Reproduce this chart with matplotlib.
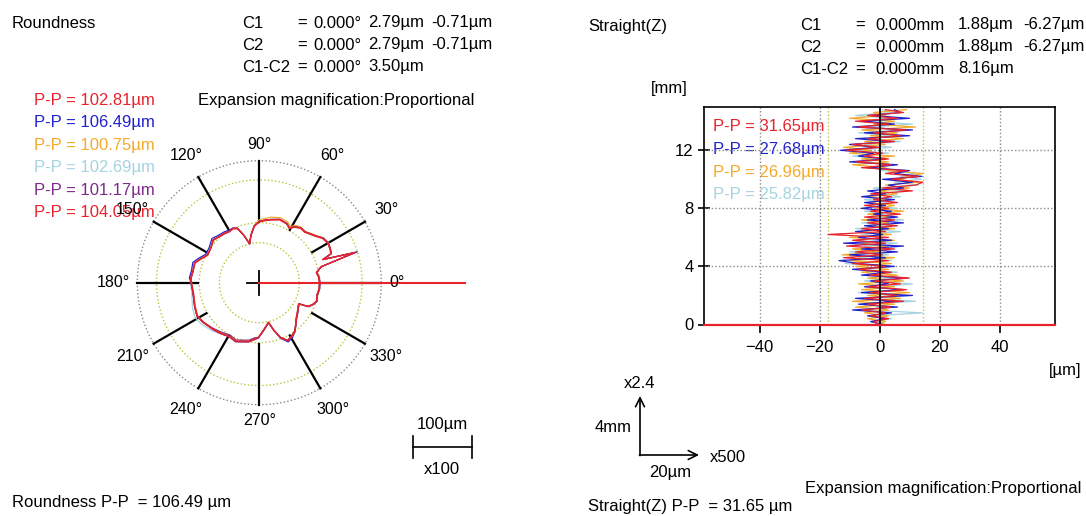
import numpy as np
import matplotlib
matplotlib.use("Agg")
import matplotlib.pyplot as plt

# ---------------------------------------
# data
# ---------------------------------------

# roundness profiles, deviation from the min circle [um] at each angle [deg]
ANGLES = [0, 5, 10, 12, 14.5, 17.5, 20, 22, 26, 30,
          35, 40, 44, 48, 53, 58, 61, 65, 72, 80,
          86, 90, 95, 100, 104, 108, 112, 116, 120, 125,
          130, 137, 145, 152, 158, 163, 170, 176, 180, 188,
          195, 200, 208, 215, 225, 232, 241, 248, 255, 260,
          265, 269, 275, 283, 287, 291, 296, 301, 306, 311,
          316, 322, 329, 332, 334, 338, 342, 348, 354, 360]

round_red1 = [34, 33, 30, 34, 40, 102.8, 46, 63, 65, 66,
              63, 55, 51, 47, 48, 43, 37, 42, 44, 40,
              37, 35, 28, 13, 0, 16, 31, 34, 32, 34,
              35, 38, 33, 31, 39, 46, 46, 48, 47, 45,
              46, 48, 51, 48, 43, 40, 36, 39, 35, 33,
              28, 25, 13, 1, 16, 31, 41, 38, 34, 26,
              19, 14, 9, 8, 24, 30, 34, 32, 34, 34]
round_blue = [35, 34, 31, 35, 41, 106.5, 47, 64, 66, 67,
              64, 56, 52, 48, 49, 44, 38, 43, 45, 41,
              38, 36, 29, 14, 0, 17, 32, 35, 35, 37,
              38, 42, 36, 35, 43, 50, 49, 51, 48, 46,
              47, 49, 52, 49, 44, 41, 37, 40, 36, 34,
              29, 26, 14, 2, 17, 33, 44, 41, 35, 27,
              20, 15, 10, 9, 25, 31, 35, 33, 35, 35]
round_orange = [35, 34, 32, 35, 41, 100.8, 47, 63, 66, 67,
                65, 57, 53, 49, 50, 47, 41, 46, 48, 45,
                41, 39, 30, 15, 0, 17, 32, 35, 33, 34,
                35, 38, 33, 32, 39, 46, 46, 48, 47, 45,
                46, 48, 51, 48, 43, 41, 37, 39, 35, 33,
                28, 25, 13, 1, 16, 31, 41, 38, 34, 26,
                19, 14, 9, 8, 24, 30, 34, 32, 34, 35]
round_lightblue = [36, 35, 32, 35, 42, 102.7, 48, 64, 66, 68,
                   65, 57, 52, 49, 49, 44, 38, 43, 45, 41,
                   38, 36, 29, 14, 0, 17, 32, 35, 34, 35,
                   36, 39, 34, 33, 40, 47, 47, 49, 49, 48,
                   50, 53, 56, 53, 47, 41, 37, 40, 36, 34,
                   29, 26, 14, 2, 17, 32, 42, 39, 35, 27,
                   20, 15, 10, 9, 25, 31, 35, 33, 35, 36]
round_purple = [34, 34, 31, 34, 41, 101.2, 47, 64, 65, 67,
                64, 56, 51, 48, 48, 44, 38, 42, 45, 41,
                38, 36, 29, 14, 0, 16, 31, 34, 33, 34,
                35, 39, 33, 32, 40, 47, 46, 48, 48, 46,
                47, 49, 52, 49, 42, 38, 34, 37, 33, 31,
                26, 25, 13, 1, 16, 31, 41, 38, 34, 26,
                19, 14, 9, 8, 24, 30, 34, 32, 34, 34]
round_red2 = [35, 34, 31, 35, 41, 104.1, 47, 64, 66, 67,
              64, 56, 52, 48, 49, 44, 38, 43, 45, 41,
              38, 36, 29, 14, 0, 17, 32, 35, 33, 35,
              36, 39, 33, 32, 40, 47, 47, 49, 48, 46,
              47, 49, 52, 49, 44, 41, 37, 40, 36, 34,
              29, 26, 14, 2, 17, 32, 42, 39, 35, 27,
              20, 15, 10, 9, 25, 31, 35, 33, 35, 35]

round_pp = ["102.81", "106.49", "100.75", "102.69", "101.17", "104.05"]

# straightness profiles, deviation [um] every 0.2 mm along Z
Z_MM = np.round(np.arange(75) * 0.2, 1)
straight_red = [0, -2, 3, -3, 2, -6, 4, -4, 8, -5,
                6, -3, 9, -4, 7, -2, 10, -3, 4, -7,
                2, -9, 3, -12, 1, -8, 5, -11, 2, -9,
                3, -17.2, 2, -6, 6, -4, 5, -5, 7, -3,
                3, -5, 6, -2, 4, -3, 11, 1, 12, 14.45,
                4, 13, 2, 9, -6, 4, -8, 3, -5, 1,
                -11, 0, -9, 5, -4, 7, -2, 9, -7, 3,
                -8, 6, -4, 8, 2]
straight_blue = [1, -3, 2, -4, 4, -9, 6, -7, 5, -8,
                 11, -6, 8, -5, 3, -3, 9, -6, 2, -9,
                 5, -7, -13.5, 2, -10, 6, -6, 8, -12, 4,
                 -7, 1, -8, 3, -5, 8, -4, 6, -2, 4,
                 -6, 2, -5, 5, -6, 2, -4, 8, 3, 11,
                 1, 14.18, 5, 10, -4, 6, -10, 2, -7, -2,
                 -13, -1, -10, 4, -8, 10, -5, 11, -9, 5,
                 -6, 10, -3, 7, 5]
straight_orange = [-1, 2, -4, 3, -5, 3, -8, 5, -9, 7,
                   -4, 10, -6, 5, -7, 8, -4, 6, -6, 3,
                   -8, 4, -10, 5, -12.5, 0, -9, 3, -6, 5,
                   -10, 4, -7, 5, -3, 3, -6, 4, -4, 8,
                   -1, 5, -3, 2, -4, 6, 0, 10, 2, 13,
                   6, 9, 14.46, 3, 2, -9, 3, -6, 5, -10,
                   -3, -12, 2, -5, 8, -3, 6, -6, 12, -2,
                   5, -10, 2, -2, 9]
straight_lightblue = [2, -1, 4, -2, 14.32, -4, 2, -6, 12, -3,
                      4, -7, 6, 1, 11, -5, 4, -4, 6, -5,
                      1, -11.5, 4, -7, 3, -10, 2, -5, 6, -8,
                      1, -6, 7, -8, 4, -6, 8, -2, 5, -5,
                      6, -3, 3, -5, 7, 1, 9, -2, 13, 5,
                      14, 7, 12, 1, -2, 5, -5, 1, -9, 3,
                      -8, 4, -5, 7, -2, 4, -7, 8, -3, 11,
                      -4, 3, -8, 4, 1]

straight_pp = ["31.65", "27.68", "26.96", "25.82"]
straight_limits = [-17.2, 14.45]

RED = "#e8232b"
BLUE = "#2222cc"
ORANGE = "#f4aa2a"
LIGHTBLUE = "#a6d3e0"
PURPLE = "#7e2a8a"
GREEN = "#b9c73a"

# ---------------------------------------

W, H = 1086, 516
PX_PER_UM = 0.59          # 100um bar = 59 px on the report
CX, CY = 259.3, 282.7     # centre of the roundness graph in px
BASE = 40 / PX_PER_UM     # min circle radius in plot units

plt.rcParams['font.family'] = ['Liberation Sans', 'DejaVu Sans']
fig = plt.figure(figsize=(W / 100, H / 100), dpi=100)


def box(x0, y0, x1, y1):
    return [x0 / W, 1 - y1 / H, (x1 - x0) / W, (y1 - y0) / H]


ov = fig.add_axes([0, 0, 1, 1])
ov.set_xlim(0, W)
ov.set_ylim(H, 0)
ov.axis('off')

# ---------------- roundness ----------------
AX0, AY0, AX1, AY1 = 95, 125, 500, 480
ax1 = fig.add_axes(box(AX0, AY0, AX1, AY1))
ax1.set_facecolor('none')
ax1.set_xlim((AX0 - CX) / PX_PER_UM, (AX1 - CX) / PX_PER_UM)
ax1.set_ylim((CY - AY1) / PX_PER_UM, (CY - AY0) / PX_PER_UM)
ax1.axis('off')

t = np.linspace(0, 2 * np.pi, 400)
r_out = 122 / PX_PER_UM
ax1.plot(r_out * np.cos(t), r_out * np.sin(t), color="#888888", lw=1, ls=(0, (1, 1.6)))
for rc in [BASE, BASE + 34, BASE + 106.49]:
    ax1.plot(rc * np.cos(t), rc * np.sin(t), color=GREEN, lw=1, ls=(0, (1, 1.6)))

r_in = 61 / PX_PER_UM
for a in range(0, 360, 30):
    th = np.radians(a)
    ax1.plot([r_in * np.cos(th), r_out * np.cos(th)], [r_in * np.sin(th), r_out * np.sin(th)],
             color='black', lw=1.6)
    lab_r = (138 + 10 * abs(np.sin(2 * th)) + (8 if a == 180 else 0)) / PX_PER_UM
    ax1.text(lab_r * np.cos(th), lab_r * np.sin(th), f"{a}°", ha='center', va='center', fontsize=11.5)

cross = 12 / PX_PER_UM
ax1.plot([-cross, cross], [0, 0], color='black', lw=1.3)
ax1.plot([0, 0], [-cross, cross], color='black', lw=1.3)

th = np.radians(ANGLES)
traces = [(round_lightblue, LIGHTBLUE), (round_orange, ORANGE), (round_blue, BLUE),
          (round_purple, PURPLE), (round_red1, RED), (round_red2, RED)]
for vals, col in traces:
    r = BASE + np.array(vals)
    ax1.plot(r * np.cos(th), r * np.sin(th), color=col, lw=0.85)

ax1.plot([0, 206 / PX_PER_UM], [0, 0], color=RED, lw=1.5, clip_on=False)

# scale bar 100um
bx0 = (413 - CX) / PX_PER_UM
by = (CY - 447) / PX_PER_UM
tk = 11 / PX_PER_UM
ax1.plot([bx0, bx0 + 100], [by, by], color='black', lw=1.2)
ax1.plot([bx0, bx0], [by - tk, by + tk], color='black', lw=1.2)
ax1.plot([bx0 + 100, bx0 + 100], [by - tk, by + tk], color='black', lw=1.2)

# ---------------- straightness ----------------
ax2 = fig.add_axes(box(704, 106.7, 1055, 324.5))
ax2.set_facecolor('none')
ax2.set_xlim(-58.5, 58.5)
ax2.set_ylim(0, 15)
ax2.set_xticks([-40, -20, 0, 20, 40])
ax2.set_yticks([0, 4, 8, 12])
for gx in [-40, -20, 20, 40]:
    ax2.axvline(gx, color="#8a8a8a", lw=1, ls=(0, (1, 1.6)))
for gy in [4, 8, 12]:
    ax2.axhline(gy, color="#8a8a8a", lw=1, ls=(0, (1, 1.6)))
for lx in straight_limits:
    ax2.axvline(lx, color=GREEN, lw=1, ls=(0, (1, 1.6)))

for vals, col in [(straight_lightblue, LIGHTBLUE), (straight_orange, ORANGE),
                  (straight_blue, BLUE), (straight_red, RED)]:
    ax2.plot(vals, Z_MM, color=col, lw=0.9)
ax2.axvline(0, color='black', lw=1.3)

for s in ['left', 'right', 'top']:
    ax2.spines[s].set_linewidth(1.2)
ax2.spines['bottom'].set_color(RED)
ax2.spines['bottom'].set_linewidth(1.6)
ax2.tick_params(axis='y', direction='inout', length=9, width=1.2, labelsize=12, pad=3)
ax2.tick_params(axis='x', direction='out', length=6, width=1.2, labelsize=12, pad=5)

# ---------------- texts ----------------
def txt(x, y, s, **kw):
    kw.setdefault('fontsize', 12)
    kw.setdefault('va', 'center')
    ov.text(x, y, s, **kw)


def row(y, words, xs):
    for w, x in zip(words, xs):
        txt(x, y, w)


txt(12, 23, "Roundness")
row(23, ["C1", "=", "0.000°", "2.79µm", "-0.71µm"], [242, 297, 313, 368, 431])
row(45, ["C2", "=", "0.000°", "2.79µm", "-0.71µm"], [242, 297, 313, 368, 431])
row(67, ["C1-C2", "=", "0.000°", "3.50µm"], [242, 297, 313, 368])
txt(198, 100, "Expansion magnification:Proportional")
for i, (pp, col) in enumerate(zip(round_pp, [RED, BLUE, ORANGE, LIGHTBLUE, PURPLE, RED])):
    txt(34, 100 + 22.6 * i, f"P-P = {pp}µm", color=col)
txt(442, 425, "100µm", ha='center')
txt(442, 470, "x100", ha='center')
txt(12, 502, "Roundness P-P  = 106.49 µm")

txt(588, 27, "Straight(Z)")
row(25, ["C1", "=", "0.000mm", "1.88µm", "-6.27µm"], [800, 855, 875, 958, 1023])
row(47, ["C2", "=", "0.000mm", "1.88µm", "-6.27µm"], [800, 855, 875, 958, 1023])
row(69, ["C1-C2", "=", "0.000mm", "8.16µm"], [800, 855, 875, 958])
txt(651, 88, "[mm]")
for i, (pp, col) in enumerate(zip(straight_pp, [RED, BLUE, ORANGE, LIGHTBLUE])):
    txt(713, 127 + 22.6 * i, f"P-P = {pp}µm", color=col)
txt(1081, 370, "[µm]", ha='right')

ov.annotate('', xy=(640, 396), xytext=(640, 455.6),
            arrowprops=dict(arrowstyle='->', lw=1.2, color='black', shrinkA=0, shrinkB=0, mutation_scale=16))
ov.annotate('', xy=(699, 455), xytext=(639.4, 455),
            arrowprops=dict(arrowstyle='->', lw=1.2, color='black', shrinkA=0, shrinkB=0, mutation_scale=16))
txt(640, 383, "x2.4", ha='center')
txt(613, 428, "4mm", ha='center')
txt(728, 457, "x500", ha='center')
txt(670, 472, "20µm", ha='center')
txt(1081, 488, "Expansion magnification:Proportional", ha='right')
txt(588, 507, "Straight(Z) P-P  = 31.65 µm")

fig.savefig("out.png", dpi=100)
